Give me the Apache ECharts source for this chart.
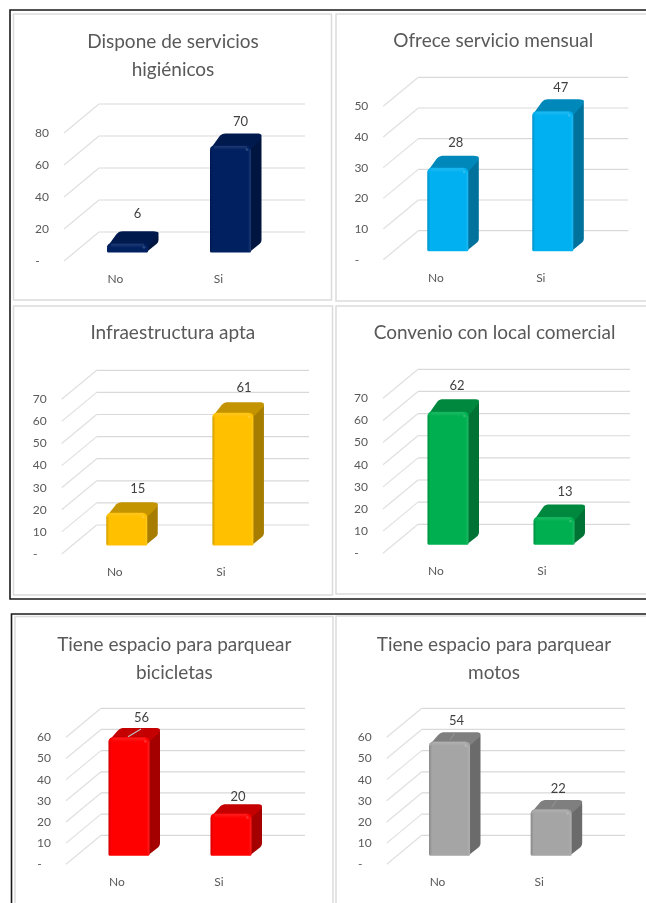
<!DOCTYPE html>
<html>
<head>
<meta charset="utf-8">
<style>html,body{margin:0;padding:0;background:#fff}#c{width:646px;height:903px}</style>
<script src="https://cdn.jsdelivr.net/npm/echarts@6/dist/echarts.min.js"></script>
</head>
<body>
<div id="c"></div>
<script>
// ---- data ----
const categories = ['No', 'Si'];
const titles = [
  'Dispone de servicios\nhigiénicos',
  'Ofrece servicio mensual',
  'Infraestructura apta',
  'Convenio con local comercial',
  'Tiene espacio para parquear\nbicicletas',
  'Tiene espacio para parquear\nmotos'
];
const serviciosHigienicos = [6, 70];
const servicioMensual = [28, 47];
const infraestructuraApta = [15, 61];
const convenioLocal = [62, 13];
const parqueoBicicletas = [56, 20];
const parqueoMotos = [54, 22];
const ticks80 = [0, 20, 40, 60, 80];
const ticks50 = [0, 10, 20, 30, 40, 50];
const ticks70 = [0, 10, 20, 30, 40, 50, 60, 70];
const ticks60 = [0, 10, 20, 30, 40, 50, 60];
const seriesValues = [serviciosHigienicos, servicioMensual, infraestructuraApta, convenioLocal, parqueoBicicletas, parqueoMotos];
const seriesTicks = [ticks80, ticks50, ticks70, ticks70, ticks60, ticks60];

// ---- layout (pixels) ----
// back wall of each panel: left, right, top, bottom
const walls = [
  [99, 305, 104, 232],
  [418.3, 628.3, 77.3, 230.7],
  [96.7, 309, 370.3, 525],
  [418, 630, 369.3, 524.3],
  [101, 305, 708.3, 835.3],
  [421.7, 625, 708.3, 835.3]
];
const titleCentres = [[173, 42], [493.3, 41], [172.8, 333.3], [494.5, 332.7], [174.3, 645], [494, 645]];
const heightScale = [0.955, 0.97, 0.985, 0.97, 1, 1];
const topDepth = [12, 12, 10.5, 12.5, 9.3, 9.3];
const labelShift = [
  [[0, -18], [0, -12]],
  [[-2, -13], [-2, -12]],
  [[1, -14], [1, -14.5]],
  [[-1, -13], [1, -13]],
  [[2.5, -10.5], [-3, -7.6]],
  [[-3, -11], [-3, -11]]
];
const leaders = [null, null, null, null,
  [[[128, 736.7], [141, 729]], null],
  [[[450, 740], [455, 732.3]], [[551.7, 807.3], [556.7, 800]]]
];
const frames = [
  [13.5, 14, 318, 286], [336, 14, 330, 287],
  [13.5, 306, 319, 289], [336, 306, 330, 288],
  [15, 616.5, 318, 300], [336, 616, 330, 300]
];
// colours: front, side, top
const palette = [
  ['#002060', '#00153f', '#001a4e'],
  ['#00B0F0', '#00729c', '#0088bb'],
  ['#FFC000', '#a67d00', '#c49400'],
  ['#00B050', '#007234', '#00883e'],
  ['#FF0000', '#a50000', '#c40000'],
  ['#A5A5A5', '#6b6b6b', '#7f7f7f']
];
const FONT = 'Lato, Carlito, sans-serif';
const WALL_DX = 35, WALL_DY = 29;
// bar offset from the category position on the front plane
const BAR_DX = 12, BAR_DY = -8.5, BAR_W = 41, BAR_DEPTH = 10.5;

// corners: [x, y, radius]
function roundPoly(pts) {
  const out = [], n = pts.length;
  for (let i = 0; i < n; i++) {
    const p = pts[i], a = pts[(i + n - 1) % n], b = pts[(i + 1) % n], r = p[2];
    const la = Math.hypot(a[0] - p[0], a[1] - p[1]), lb = Math.hypot(b[0] - p[0], b[1] - p[1]);
    const ra = Math.min(r, la / 2), rb = Math.min(r, lb / 2);
    const s = [p[0] + (a[0] - p[0]) * ra / la, p[1] + (a[1] - p[1]) * ra / la];
    const e = [p[0] + (b[0] - p[0]) * rb / lb, p[1] + (b[1] - p[1]) * rb / lb];
    for (let t = 0; t <= 1.001; t += 0.2) {
      const u = 1 - t;
      out.push([u * u * s[0] + 2 * u * t * p[0] + t * t * e[0], u * u * s[1] + 2 * u * t * p[1] + t * t * e[1]]);
    }
  }
  return out;
}
function hGrad(stops) {
  return new echarts.graphic.LinearGradient(0, 0, 1, 0, stops.map(s => ({ offset: s[0], color: s[1] })));
}
function vGrad(stops) {
  return new echarts.graphic.LinearGradient(0, 0, 0, 1, stops.map(s => ({ offset: s[0], color: s[1] })));
}

const option = {
  animation: false,
  backgroundColor: '#fff',
  title: [], grid: [], xAxis: [], yAxis: [], series: [],
  graphic: { elements: [] }
};

option.graphic.elements.push(
  { type: 'rect', silent: true, z: -1, shape: { x: 10, y: 10, width: 660, height: 589 }, style: { fill: '#fff', stroke: '#1a1a1a', lineWidth: 1.6 } },
  { type: 'rect', silent: true, z: -1, shape: { x: 11.5, y: 614, width: 660, height: 320 }, style: { fill: '#fff', stroke: '#1a1a1a', lineWidth: 1.6 } }
);
frames.forEach(f => option.graphic.elements.push({
  type: 'rect', silent: true, z: -1,
  shape: { x: f[0], y: f[1], width: f[2], height: f[3] },
  style: { fill: '#fff', stroke: '#dcdcdc', lineWidth: 1.5 }
}));

seriesValues.forEach((vals, k) => {
  const w = walls[k], tk = seriesTicks[k];
  const c = palette[k];
  const wallWidth = w[1] - w[0];
  option.title.push({
    text: titles[k], left: titleCentres[k][0], top: titleCentres[k][1] - 14, textAlign: 'center', padding: 0,
    textStyle: { fontFamily: FONT, fontSize: 19, lineHeight: 28, fontWeight: 'normal', color: '#595959' }
  });
  // the grid is the FRONT plane of the pseudo 3-D box: axis labels sit on it
  option.grid.push({ left: w[0] - WALL_DX, top: w[2] + WALL_DY, width: wallWidth, height: w[3] - w[2], containLabel: false });
  option.xAxis.push({
    type: 'category', gridIndex: k, data: categories,
    axisLine: { show: false }, axisTick: { show: false }, splitLine: { show: false },
    axisLabel: { fontFamily: FONT, fontSize: 12, color: '#595959', margin: 12 }
  });
  option.yAxis.push({
    type: 'value', gridIndex: k, min: 0, max: tk[tk.length - 1], interval: tk[1] - tk[0],
    axisLine: { show: false }, axisTick: { show: false }, splitLine: { show: false },
    axisLabel: {
      fontFamily: FONT, fontSize: 12, color: '#595959', margin: 15,
      formatter: v => (v === 0 ? '-\u00a0\u00a0\u00a0' : String(v))
    }
  });
  // wall lines: receding diagonal plus the horizontal on the back wall, one per tick
  option.series.push({
    type: 'custom', xAxisIndex: k, yAxisIndex: k, z: 1, silent: true,
    data: tk.map(t => [0, t]), encode: { x: 0, y: 1 },
    renderItem(params, api) {
      const y = api.coord([0, api.value(1)])[1];
      const x = params.coordSys.x;
      return {
        type: 'group', children: [
          { type: 'line', shape: { x1: x, y1: y, x2: x + WALL_DX, y2: y - WALL_DY }, style: { stroke: '#e0e0e0', lineWidth: 1.2 } },
          { type: 'line', shape: { x1: x + WALL_DX, y1: y - WALL_DY, x2: x + WALL_DX + wallWidth, y2: y - WALL_DY }, style: { stroke: '#d9d9d9', lineWidth: 1.2 } }
        ]
      };
    }
  });
  option.series.push({
    type: 'custom', xAxisIndex: k, yAxisIndex: k, z: 3, silent: true,
    data: vals.map((v, i) => [i, v]), encode: { x: 0, y: 1 },
    renderItem(params, api) {
      const i = api.value(0), v = api.value(1);
      const base = api.coord([i, 0]);
      const topP = api.coord([i, v]);
      const cx = base[0] + BAR_DX;
      const x0 = cx - BAR_W / 2, x1 = cx + BAR_W / 2;
      const bottom = base[1] + BAR_DY;
      const top = bottom - (base[1] - topP[1]) * heightScale[k];
      const dx = BAR_DEPTH, dy = topDepth[k];
      const children = [];
      // side face
      children.push({ type: 'polygon', shape: { points: roundPoly([[x1 - 4, top + 2, 0], [x1 + dx, top - dy, 5], [x1 + dx, bottom - 10, 3], [x1 - 2, bottom, 2]]) }, style: { fill: c[1] } });
      // top face
      children.push({ type: 'polygon', shape: { points: roundPoly([[x0, top + 4, 0], [x0 + dx + 1, top - dy, 4], [x1 + dx, top - dy, 5], [x1 + dx, top - dy + 4, 3], [x1, top + 4, 0]]) }, style: { fill: c[2] } });
      // front face
      const h = bottom - top;
      const rTop = Math.min(5, h / 2);
      children.push({ type: 'polygon', shape: { points: roundPoly([[x0, top, rTop], [x1, top, rTop], [x1, bottom, 1.5], [x0, bottom, 1.5]]) }, style: { fill: c[0] } });
      // bevel shading
      if (h > 14) {
        children.push({ type: 'rect', shape: { x: x0, y: top + 4, width: 3, height: h - 5 }, style: { fill: hGrad([[0, 'rgba(0,0,0,0.18)'], [1, 'rgba(0,0,0,0)']]) } });
        children.push({ type: 'rect', shape: { x: x1 - 3, y: top + 4, width: 3, height: h - 5 }, style: { fill: hGrad([[0, 'rgba(255,255,255,0)'], [1, 'rgba(255,255,255,0.12)']]) } });
      }
      children.push({ type: 'rect', shape: { x: x0 + 4, y: top + 0.5, width: BAR_W - 8, height: Math.min(4, h - 1) }, style: { fill: vGrad([[0, 'rgba(255,255,255,0.12)'], [1, 'rgba(255,255,255,0)']]) } });
      children.push({ type: 'circle', shape: { cx: x1 - 4, cy: top + 4, r: 1.5 }, style: { fill: 'rgba(255,255,255,0.16)' } });
      const lead = leaders[k] && leaders[k][i];
      if (lead) {
        children.push({ type: 'line', shape: { x1: lead[0][0], y1: lead[0][1], x2: lead[1][0], y2: lead[1][1] }, style: { stroke: k === 4 ? '#bdbdbd' : '#909090', lineWidth: 1.2 } });
      }
      const sh = labelShift[k][i];
      children.push({
        type: 'text',
        style: {
          text: String(v), x: cx + 10 + sh[0], y: top - dy + sh[1],
          align: 'center', verticalAlign: 'middle', fill: '#404040',
          font: '13px ' + FONT
        }
      });
      return { type: 'group', children };
    }
  });
});

const chart = echarts.init(document.getElementById('c'), null, { renderer: 'canvas', width: 646, height: 903 });
chart.setOption(option);
</script>
</body>
</html>
